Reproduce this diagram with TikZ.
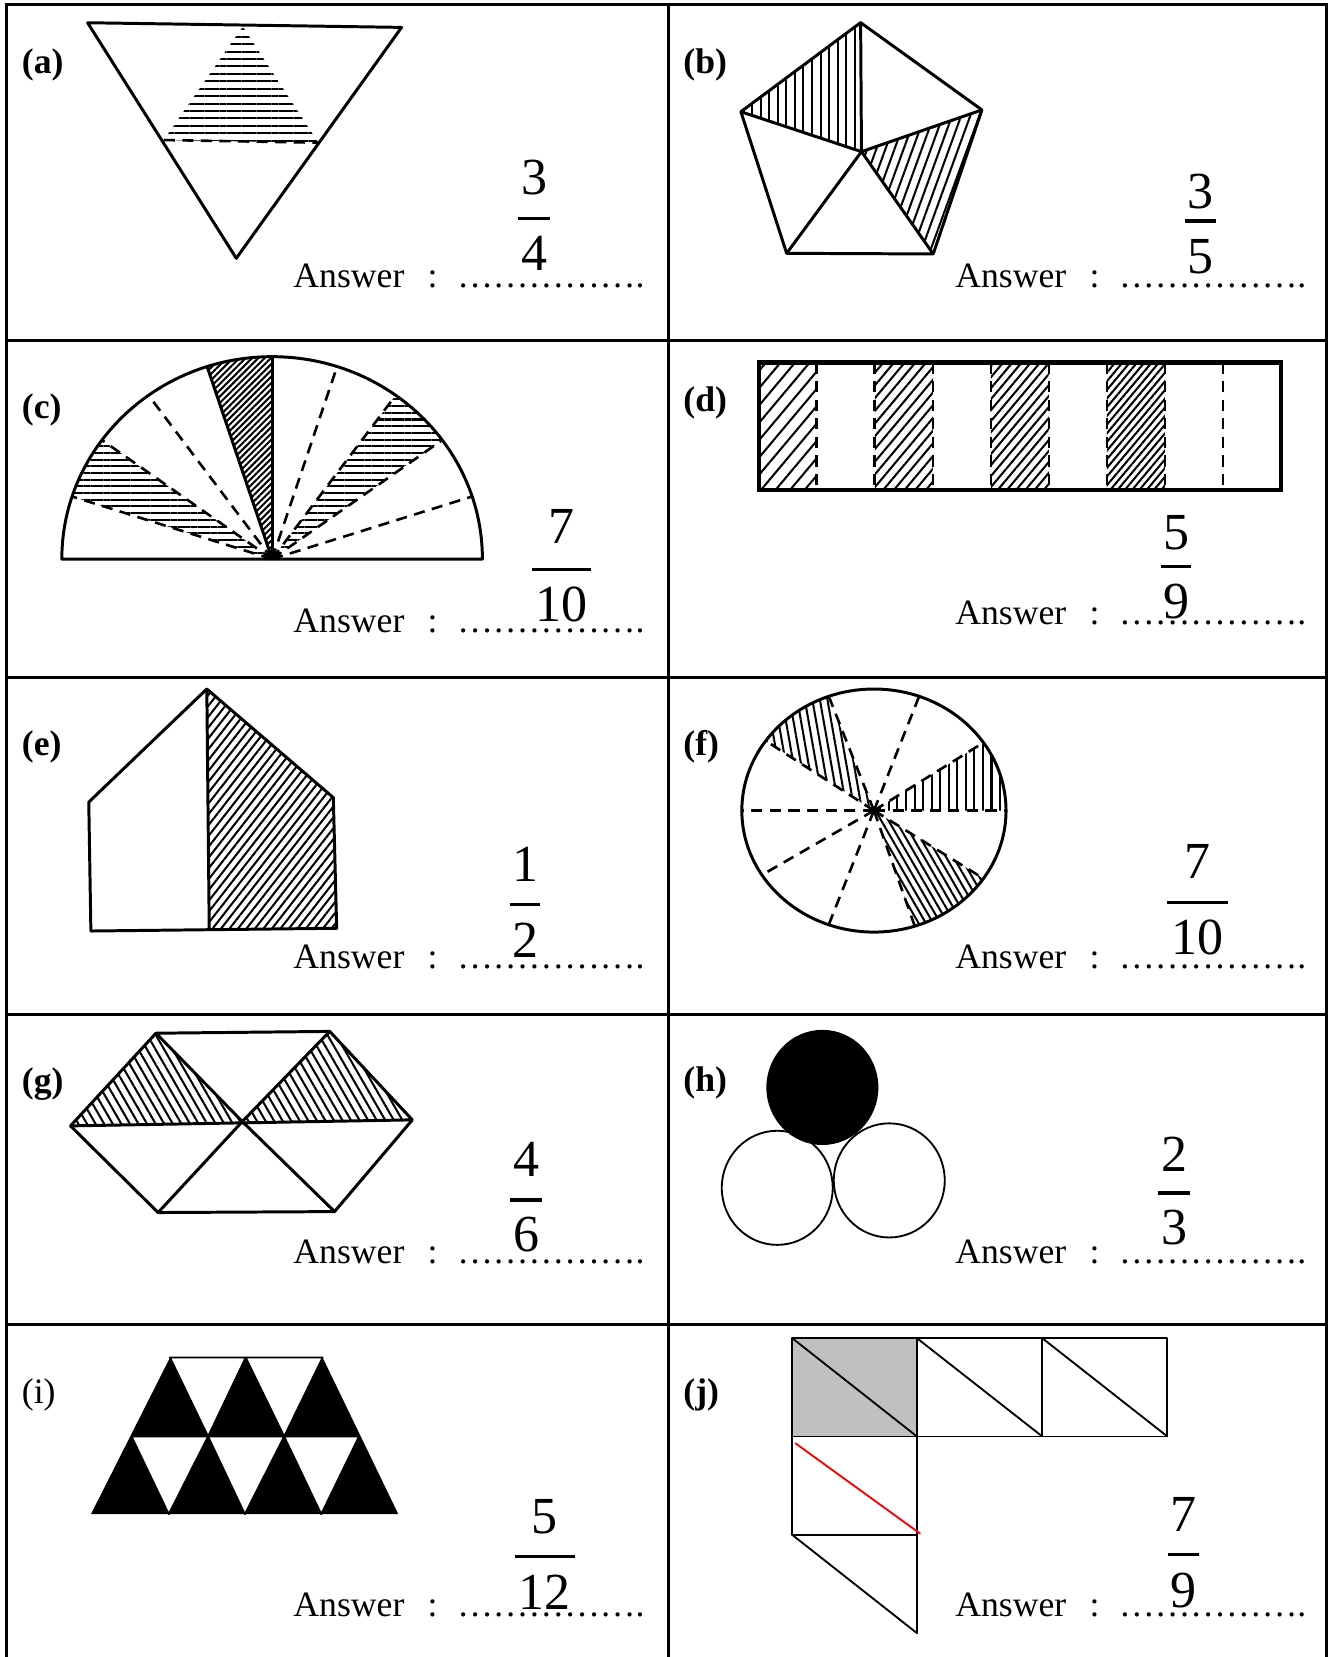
\documentclass[tikz,border=0pt]{standalone}
\usepackage{fontspec}
\setmainfont{Liberation Serif}
\usetikzlibrary{patterns.meta}
\definecolor{cellgrey}{HTML}{C0C0C0}

\begin{document}
\begin{tikzpicture}[x=0.01cm, y=-0.01cm,
  grid/.style={line width=0.8pt, line cap=rect},
  outline/.style={line width=0.8pt, line join=round},
  thinline/.style={line width=0.5pt, line join=round},
  cut/.style={line width=0.7pt, dash pattern=on 3pt off 2pt},
  hatch/.style 2 args={pattern={Lines[angle=#1,distance=#2,line width=0.55pt]}},
  tag/.style={font=\fontsize{9.6}{11}\selectfont\bfseries, anchor=base west, inner sep=0pt},
  ans/.style={font=\fontsize{9.6}{11}\selectfont, anchor=base west, inner sep=0pt},
  digit/.style={font=\fontsize{14}{16}\selectfont, anchor=base, inner sep=0pt},
  fracbar/.style={line width=0.9pt}]

  \useasboundingbox (0,0) rectangle (1265,1568);

  % Table
  \foreach \y in {3.8,322.3,641.5,960.4,1253.7}
    \draw[grid] (6,\y) -- (1255,\y);
  \foreach \x in {6,632.4,1255}
    \draw[grid] (\x,3.8) -- (\x,1568);

  % Labels
  \node[tag] (la) at (20,70)   {(a)};
  \node[tag] (lb) at (646,70)  {(b)};
  \node[tag] (lc) at (20,396)  {(c)};
  \node[tag] (ld) at (646,389) {(d)};
  \node[tag] (le) at (20,715)  {(e)};
  \node[tag] (lf) at (646,715) {(f)};
  \node[tag] (lg) at (20,1034) {(g)};
  \node[tag] (lh) at (646,1033) {(h)};
  \node[tag, font=\fontsize{9.6}{11}\selectfont] (li) at (20,1328) {(i)};
  \node[tag] (lj) at (646,1328) {(j)};

  % (a) triangle
  \coordinate (a1) at (82.9,21.5);
  \coordinate (a2) at (380,25.9);
  \coordinate (a3) at (223.6,244.4);
  \coordinate (a4) at (229.7,25.2);
  \coordinate (a5) at (154.9,132.5);
  \coordinate (a6) at (301.2,135);
  \fill[hatch={0}{2pt}] (a4) -- (a5) -- (a6) -- cycle;
  \draw[outline] (a1) -- (a2) -- (a3) -- cycle;
  \draw[cut] (a5) -- (a6);

  % (b) pentagon
  \coordinate (b1) at (814.4,21.4);
  \coordinate (b2) at (929.2,104);
  \coordinate (b3) at (883.1,240.3);
  \coordinate (b4) at (744.4,239.7);
  \coordinate (b5) at (701.1,105.7);
  \coordinate (bc) at (815.2,143.5);
  \fill[hatch={90}{2.3pt}] (b5) -- (b1) -- (bc) -- cycle;
  \fill[hatch={70}{2.3pt}] (bc) -- (b2) -- (b3) -- cycle;
  \draw[outline] (b1) -- (b2) -- (b3) -- (b4) -- (b5) -- cycle;
  \foreach \v in {b1,b2,b3,b4,b5}
    \draw[outline] (bc) -- (\v);

  % (c) half disc
  \coordinate (cc) at (257.5,529);
  \foreach \a [count=\i] in {0,18,...,180}
    \coordinate (c\i) at ({257.5+199*cos(\a)},{529-191.5*sin(\a)});
  \fill[hatch={0}{1.8pt}] (cc) -- (c9) arc[start angle=-144, end angle=-162, x radius=199, y radius=191.5] -- cycle;
  \fill[hatch={45}{1.2pt}] (cc) -- (c6) arc[start angle=-90, end angle=-108, x radius=199, y radius=191.5] -- cycle;
  \fill[hatch={0}{1.8pt}] (cc) -- (c3) arc[start angle=-36, end angle=-54, x radius=199, y radius=191.5] -- cycle;
  \draw[outline] (c11) arc[start angle=-180, end angle=0, x radius=199, y radius=191.5] -- cycle;
  \draw[outline] (cc) -- (c6);
  \draw[outline] (cc) -- (c7);
  \foreach \i in {2,3,4,5,8,9,10}
    \draw[cut] (cc) -- (c\i);

  % (d) strip
  \foreach \i/\d in {0/3pt,2/2.2pt,4/1.9pt,6/1.5pt}
    \fill[hatch={50}{\d}] ({718+\i*54.9},343) rectangle ({718+(\i+1)*54.9},464);
  \foreach \i in {1,...,8}
    \draw[cut] ({718+\i*54.9},343) -- ({718+\i*54.9},464);
  \draw[line width=1.1pt] (718,343) rectangle (1212,464);

  % (e) house
  \coordinate (e1) at (195.7,652);
  \coordinate (e2) at (84,759);
  \coordinate (e3) at (86,881);
  \coordinate (e4) at (198,879);
  \coordinate (e5) at (318.6,878.4);
  \coordinate (e6) at (315.4,754.7);
  \fill[hatch={52}{1.8pt}] (e1) -- (e4) -- (e5) -- (e6) -- cycle;
  \draw[outline] (e1) -- (e2) -- (e3) -- (e5) -- (e6) -- cycle;
  \draw[outline] (e1) -- (e4);

  % (f) disc
  \coordinate (fc) at (827,767);
  \foreach \a [count=\i] in {0,34,70,110,145,180,212,250,288,326}
    \coordinate (f\i) at ({827+125*cos(\a)},{767-115*sin(\a)});
  \fill[hatch={90}{2.3pt}] (fc) -- (f1) arc[start angle=0, end angle=-34, x radius=125, y radius=115] -- cycle;
  \fill[hatch={100}{2pt}] (fc) -- (f4) arc[start angle=-110, end angle=-145, x radius=125, y radius=115] -- cycle;
  \fill[hatch={120}{1.7pt}] (fc) -- (f9) arc[start angle=-288, end angle=-326, x radius=125, y radius=115] -- cycle;
  \draw[outline] (fc) ellipse[x radius=125, y radius=115];
  \foreach \i in {1,...,10}
    \draw[cut] (fc) -- (f\i);

  % (g) hexagon
  \coordinate (g1) at (147.6,977.7);
  \coordinate (g2) at (312,976);
  \coordinate (g3) at (390.2,1059.7);
  \coordinate (g4) at (316.6,1146.5);
  \coordinate (g5) at (149.6,1147.4);
  \coordinate (g6) at (66.7,1065.4);
  \coordinate (gc) at (229.3,1061.3);
  \fill[hatch={120}{2pt}] (g1) -- (g6) -- (gc) -- cycle;
  \fill[hatch={120}{2pt}] (g2) -- (gc) -- (g3) -- cycle;
  \draw[outline] (g1) -- (g2) -- (g3) -- (g4) -- (g5) -- (g6) -- cycle;
  \draw[outline] (g6) -- (g3);
  \foreach \v in {g1,g2,g4,g5}
    \draw[outline] (gc) -- (\v);

  % (h) circles
  \draw[thinline] (735.5,1124) ellipse[x radius=52.5, y radius=54];
  \draw[thinline] (841.5,1117) ellipse[x radius=52.5, y radius=54];
  \fill (778.2,1029) ellipse[x radius=53, y radius=54.5];

  % (i) triangles
  \fill (86.1,1432.8) -- (376.9,1432.8) -- (305.3,1284.6) -- (160.9,1284.6) -- cycle;
  \foreach \p/\q/\r in {160.9/232.5/196.9, 232.5/305.3/268.9}
    \filldraw[fill=white, thinline] (\p,1284.6) -- (\q,1284.6) -- (\r,1359.3) -- cycle;
  \foreach \p/\q/\r in {124.5/196.9/159.7, 196.9/268.9/231.7, 268.9/339.7/304}
    \filldraw[fill=white, thinline] (\p,1359.3) -- (\q,1359.3) -- (\r,1432.8) -- cycle;

  % (j) squares
  \fill[cellgrey] (749.7,1266.3) rectangle (867.7,1359.3);
  \foreach \x/\xx in {749.7/867.7, 867.7/986.3, 986.3/1104.7} {
    \draw[thinline] (\x,1266.3) rectangle (\xx,1359.3);
    \draw[thinline] (\x,1266.3) -- (\xx,1359.3);
  }
  \draw[thinline] (749.7,1359.3) rectangle (867.7,1452.4);
  \draw[thinline] (749.7,1452.4) -- (867.7,1545.4) -- (867.7,1452.4);
  \draw[red, line width=0.5pt] (752.5,1365.6) -- (871,1451.4);

  % Answers
  \foreach \x/\y [count=\i] in {277/272, 903.3/272, 277/598.6, 903.3/591.4, 277/916.8,
      903.3/916.8, 277/1195.3, 903.3/1195.3, 277/1529.6, 903.3/1529.6} {
    \node[ans] (ans\i) at (\x,\y) {Answer};
    \node[ans] (col\i) at (\x+127,\y) {:};
    \node[ans] (dot\i) at (\x+155,\y) {…………….};
  }

  % Fractions
  \foreach \cx/\nb/\by/\db/\n/\d/\w [count=\i] in {
      505.5/184.5/206.6/256/3/4/15, 1136/197/209/258.6/3/5/14.5,
      531.7/514/538.7/588/7/10/28, 1113/520.4/536/585/5/9/14.2,
      497/834/856/906.5/1/2/14.3, 1133/831/854/903.6/7/10/29,
      498/1113/1135.4/1184/4/6/15, 1111/1108.6/1129/1178/2/3/15,
      515.5/1450.8/1473/1523.3/5/12/28.5, 1120/1449/1471/1521.6/7/9/14.5} {
    \node[digit] (num\i) at (\cx,\nb) {\n};
    \node[digit] (den\i) at (\cx,\db) {\d};
    \draw[fracbar] (\cx-\w,\by) -- (\cx+\w,\by);
  }

\end{tikzpicture}
\end{document}
